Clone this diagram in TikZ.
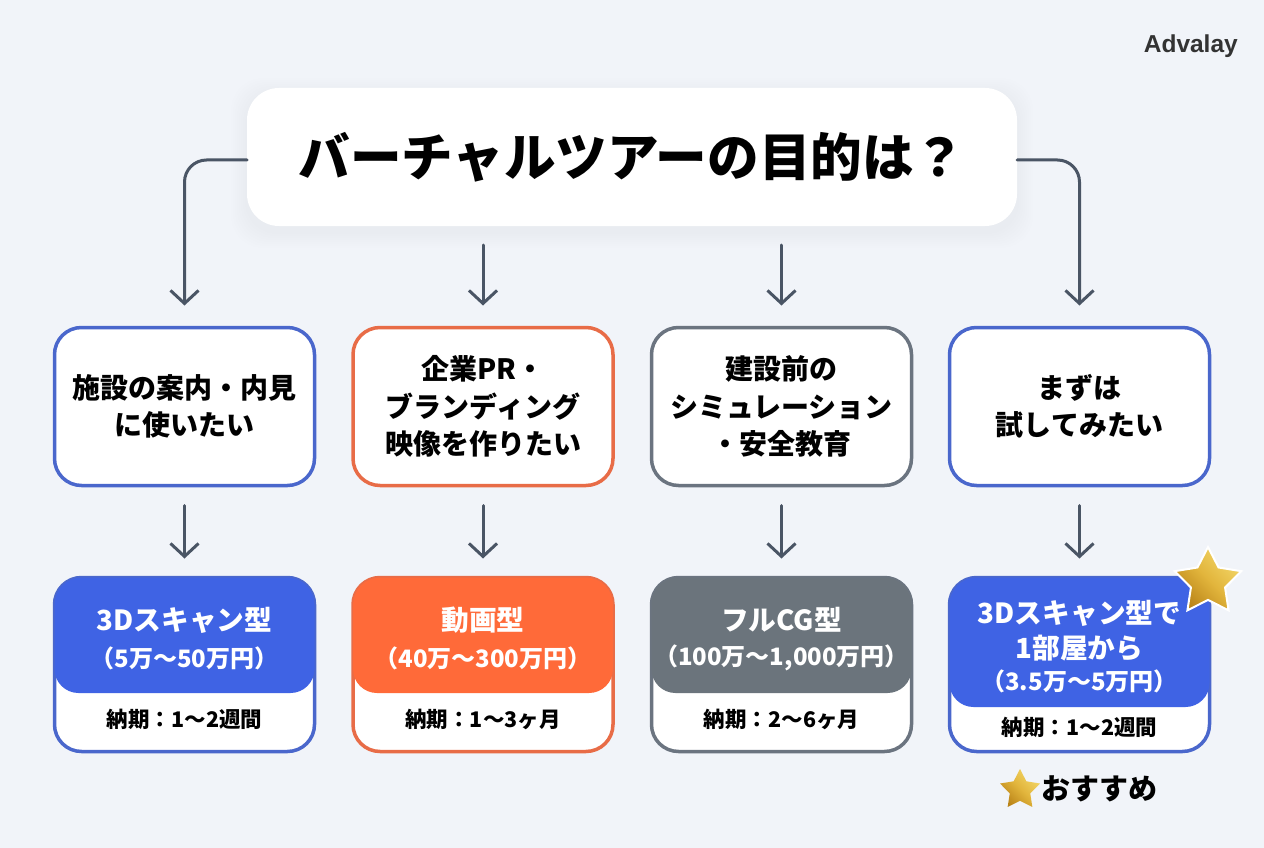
\documentclass[tikz,border=0pt]{standalone}
\usepackage{fontspec}
\setmainfont{Noto Sans CJK JP}
\newfontfamily\logofont{Liberation Sans}
\usetikzlibrary{positioning,arrows.meta,shapes.geometric}
\definecolor{pagebg}{HTML}{F1F4F9}
\definecolor{arrowgray}{HTML}{4A5565}
\definecolor{blueedge}{HTML}{4A67CC}
\definecolor{blueband}{HTML}{3F63E4}
\definecolor{orangeedge}{HTML}{E86C47}
\definecolor{orangeband}{HTML}{FF6A39}
\definecolor{grayedge}{HTML}{6B7480}
\definecolor{grayband}{HTML}{6B747C}
\definecolor{goldlight}{HTML}{F3D768}
\definecolor{golddark}{HTML}{B98318}
\definecolor{goldmid}{HTML}{E2B53C}
\tikzset{
  titlebox/.style={fill=white, rounded corners=32pt, minimum width=770pt, minimum height=138pt,
    inner sep=0pt, outer sep=0pt, font=\fontsize{51.6}{60}\selectfont\bfseries},
  probbox/.style={fill=white, line width=3.5pt, rounded corners=27pt, minimum width=260pt,
    minimum height=158pt, inner sep=0pt, outer sep=0pt, align=center,
    font=\fontsize{28}{37.5}\selectfont\bfseries},
  pricebox/.style={fill=white, line width=3.5pt, rounded corners=27pt, minimum width=260pt,
    minimum height=174pt, inner sep=0pt, outer sep=0pt},
  bandhead/.style={text=white, inner sep=0pt, font=\fontsize{27.7}{30}\selectfont\bfseries},
  bandprice/.style={text=white, inner sep=0pt, font=\fontsize{24}{26}\selectfont\bfseries},
  bandterm/.style={inner sep=0pt, font=\fontsize{21.5}{24}\selectfont\bfseries},
  flow/.style={arrowgray, line width=3pt, line cap=round, -{Straight Barb[length=13pt,width=28pt,line width=3pt]}},
  goldstar/.style={star, star points=5, star point ratio=1.95, inner sep=0pt, outer sep=0pt,
    left color=goldlight, right color=golddark, middle color=goldmid, shading angle=-45}
}
% band over the upper part of a price box
\newcommand{\priceband}[3]{
  \fill[#2, rounded corners=24pt] (#1.north |- 0,#3) -- (#1.west |- 0,#3)
    [rounded corners=27pt] -- (#1.north west) -- (#1.north east)
    [rounded corners=24pt] -- (#1.east |- 0,#3) -- cycle;
}
\begin{document}
\begin{tikzpicture}[x=1pt, y=-1pt]
%
  \fill[pagebg] (0,0) rectangle (1264,848);
  \useasboundingbox (0,0) rectangle (1264,848);
%
  \node[text=black!80, inner sep=0pt, anchor=east, font=\logofont\fontsize{24.5}{28}\selectfont\bfseries] (logo) at (1238,46) {Advalay};
%
  % soft shadow of the title
  \foreach \s in {16,14,...,2}
    \fill[black, opacity=0.005, rounded corners=32pt] (247-\s,88-\s+6) rectangle (1017+\s,226+\s+6);
  \node[titlebox] (title) at (632,157) {バーチャルツアーの目的は？};
%
  \node[probbox, draw=blueedge] (prob1) at (184.5,406.5) {施設の案内・内見\\に使いたい};
  \node[probbox, draw=orangeedge] (prob2) at (483,406.5) {企業PR・\\ブランディング\\映像を作りたい};
  \node[probbox, draw=grayedge] (prob3) at (781.5,406.5) {建設前の\\シミュレーション\\・安全教育};
  \node[probbox, draw=blueedge] (prob4) at (1079.5,406.5) {まずは\\試してみたい};
%
  \node[pricebox, draw=blueedge] (plan1) at (184.5,664.5) {};
  \node[pricebox, draw=orangeedge] (plan2) at (483,664.5) {};
  \node[pricebox, draw=grayedge] (plan3) at (781.5,664.5) {};
  \node[pricebox, draw=blueedge] (plan4) at (1079.5,664.5) {};
  \priceband{plan1}{blueband}{693}
  \priceband{plan2}{orangeband}{693}
  \priceband{plan3}{grayband}{693}
  \priceband{plan4}{blueband}{707}
%
  \node[bandhead] (head1) at (184.5,620) {3Dスキャン型};
  \node[bandprice] (price1) at (184.5,658) {（5万〜50万円）};
  \node[bandterm] (term1) at (184.5,719) {納期：1〜2週間};
  \node[bandhead] (head2) at (483,620) {動画型};
  \node[bandprice] (price2) at (483,658) {（40万〜300万円）};
  \node[bandterm] (term2) at (483,719) {納期：1〜3ヶ月};
  \node[bandhead] (head3) at (781.5,620) {フルCG型};
  \node[bandprice] (price3) at (781.5,658) {（100万〜1,000万円）};
  \node[bandterm] (term3) at (781.5,719) {納期：2〜6ヶ月};
  \node[bandhead] (head4a) at (1079.5,613) {3Dスキャン型で};
  \node[bandhead] (head4b) at (1079.5,648) {1部屋から};
  \node[bandprice] (price4) at (1079.5,681) {（3.5万〜5万円）};
  \node[bandterm] (term4) at (1079.5,727) {納期：1〜2週間};
%
  \draw[flow, rounded corners=22pt, shorten >=22pt] ([yshift=-3pt]title.west) -| (prob1.north);
  \draw[flow, rounded corners=22pt, shorten >=22pt] ([yshift=-3pt]title.east) -| (prob4.north);
  \draw[flow, shorten <=19pt, shorten >=22pt] (title.south -| prob2.north) -- (prob2.north);
  \draw[flow, shorten <=19pt, shorten >=22pt] (title.south -| prob3.north) -- (prob3.north);
%
  \draw[flow, shorten <=20pt, shorten >=19pt] (prob1.south) -- (plan1.north);
  \draw[flow, shorten <=20pt, shorten >=19pt] (prob2.south) -- (plan2.north);
  \draw[flow, shorten <=20pt, shorten >=19pt] (prob3.south) -- (plan3.north);
  \draw[flow, shorten <=20pt, shorten >=19pt] (prob4.south) -- (plan4.north);
%
  \node[goldstar, draw=white, line width=2pt, minimum size=70pt] (bigstar) at (1208,582) {};
  \node[goldstar, minimum size=42pt] (smallstar) at (1020,790) {};
  \node[inner sep=0pt, anchor=west, font=\fontsize{29}{32}\selectfont\bfseries] (recommend) at (1041,789) {おすすめ};
\end{tikzpicture}
\end{document}
